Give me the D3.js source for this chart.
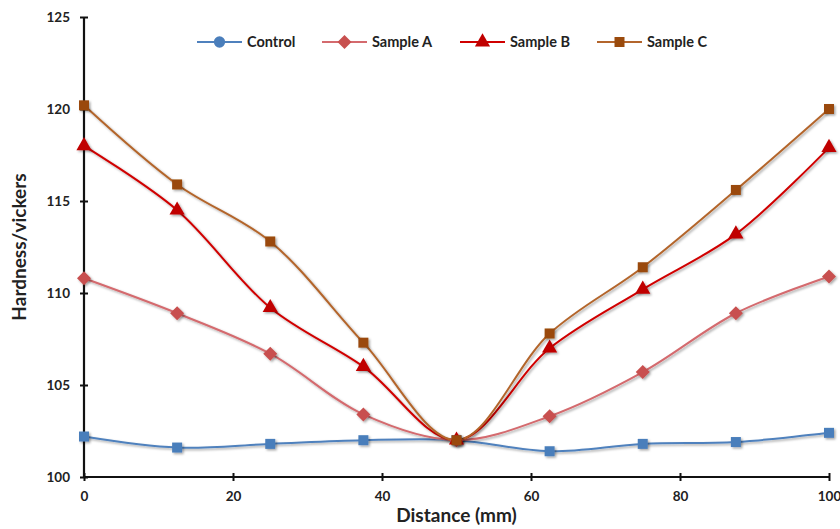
<!DOCTYPE html>
<html>
<head>
<meta charset="utf-8">
<script src="https://cdn.jsdelivr.net/npm/d3@7"></script>
<style>
  body { margin: 0; background: #fff; }
  text { font-family: Lato, "Open Sans", sans-serif; font-weight: bold; fill: #222; }
</style>
</head>
<body>
<div id="chart"></div>
<script>
var WIDTH = 840;
var HEIGHT = 529;

// data
var distance = [0, 12.5, 25, 37.5, 50, 62.5, 75, 87.5, 100];
var control  = [102.2, 101.6, 101.8, 102.0, 102.0, 101.4, 101.8, 101.9, 102.4];
var sampleA  = [110.8, 108.9, 106.7, 103.4, 102.0, 103.3, 105.7, 108.9, 110.9];
var sampleB  = [118.0, 114.5, 109.2, 106.0, 102.0, 107.0, 110.2, 113.2, 117.9];
var sampleC  = [120.2, 115.9, 112.8, 107.3, 102.0, 107.8, 111.4, 115.6, 120.0];
var xTicks = [0, 20, 40, 60, 80, 100];
var yTicks = [100, 105, 110, 115, 120, 125];

var series = [
    { name: "Control",  values: control, line: "#4f81bd", fill: "#4a7ebb", shape: "square", legendShape: "circle" },
    { name: "Sample A", values: sampleA, line: "#d46a6e", fill: "#c8504f", shape: "diamond" },
    { name: "Sample B", values: sampleB, line: "#d00000", fill: "#c00000", shape: "triangle" },
    { name: "Sample C", values: sampleC, line: "#b3652c", fill: "#9a4a0c", shape: "square" }
];

var margin = { left: 84, right: 11, top: 17, bottom: 52 };

var svg = d3.select("#chart").append("svg")
    .attr("width", WIDTH)
    .attr("height", HEIGHT);

var defs = svg.append("defs");
defs.append("filter").attr("id", "shadow")
    .attr("x", "-50%").attr("y", "-50%").attr("width", "200%").attr("height", "200%")
  .append("feDropShadow")
    .attr("dx", 1.5).attr("dy", 1.5).attr("stdDeviation", 1.2)
    .attr("flood-color", "#000").attr("flood-opacity", 0.35);

var x = d3.scaleLinear().domain([0, 100]).range([margin.left, WIDTH - margin.right]);
var y = d3.scaleLinear().domain([100, 125]).range([HEIGHT - margin.bottom, margin.top]);

function symbolPath(shape) {
    if (shape === "diamond") {
        var r = 7;
        return "M0," + (-r) + "L" + r + ",0L0," + r + "L" + (-r) + ",0Z";
    }
    var type = { square: d3.symbolSquare, triangle: d3.symbolTriangle, circle: d3.symbolCircle }[shape];
    var size = { square: 100, triangle: 100, circle: 100 }[shape];
    return d3.symbol().type(type).size(size)();
}

// axes
var xAxis = svg.append("g")
    .attr("transform", "translate(0," + y(100) + ")")
    .call(d3.axisBottom(x).tickValues(xTicks).tickSize(4).tickPadding(10));
var yAxis = svg.append("g")
    .attr("transform", "translate(" + x(0) + ",0)")
    .call(d3.axisLeft(y).tickValues(yTicks).tickSize(4).tickPadding(10));

[xAxis, yAxis].forEach(function(g) {
    g.select(".domain").attr("stroke", "#111").attr("stroke-width", 2.2);
    g.selectAll(".tick line").attr("stroke", "#111").attr("stroke-width", 2);
    g.selectAll(".tick text").style("font-size", "13.5px").attr("fill", "#222");
});
xAxis.selectAll(".tick line").attr("y1", -4);
yAxis.selectAll(".tick line").attr("x1", 4);
xAxis.select(".domain").attr("d", "M" + x(0) + ",0H" + x(100));
yAxis.select(".domain").attr("d", "M0," + y(100) + "V" + y(125));

// lines
var line = d3.line()
    .x(function(d, i) { return x(distance[i]); })
    .y(function(d) { return y(d); })
    .curve(d3.curveCatmullRom.alpha(0.5));

series.forEach(function(s) {
    svg.append("path")
        .attr("d", line(s.values))
        .attr("fill", "none")
        .attr("stroke", s.line)
        .attr("stroke-width", 2)
        .attr("filter", "url(#shadow)");
});

series.forEach(function(s) {
    svg.append("g").selectAll("path")
        .data(s.values)
        .enter().append("path")
        .attr("d", symbolPath(s.shape))
        .attr("transform", function(d, i) { return "translate(" + x(distance[i]) + "," + y(d) + ")"; })
        .attr("fill", s.fill)
        .attr("filter", "url(#shadow)");
});

// legend
var legendX = [197, 322, 460, 597];
var legend = svg.append("g").attr("transform", "translate(0,42)");
series.forEach(function(s, i) {
    var g = legend.append("g").attr("transform", "translate(" + legendX[i] + ",0)");
    g.append("line").attr("x1", 0).attr("x2", 45).attr("stroke", s.line).attr("stroke-width", 2);
    g.append("path").attr("d", symbolPath(s.legendShape || s.shape))
        .attr("transform", "translate(22.5,0)")
        .attr("fill", s.fill);
    g.append("text").attr("x", 50).attr("dy", "0.35em")
        .style("font-size", "14.5px").text(s.name);
});

// axis titles
svg.append("text")
    .attr("x", (x(0) + x(100)) / 2)
    .attr("y", 522)
    .attr("text-anchor", "middle")
    .style("font-size", "19px")
    .text("Distance (mm)");

svg.append("text")
    .attr("transform", "translate(26," + y(112.5) + ") rotate(-90)")
    .attr("text-anchor", "middle")
    .style("font-size", "19px")
    .text("Hardness/vickers");
</script>
</body>
</html>
